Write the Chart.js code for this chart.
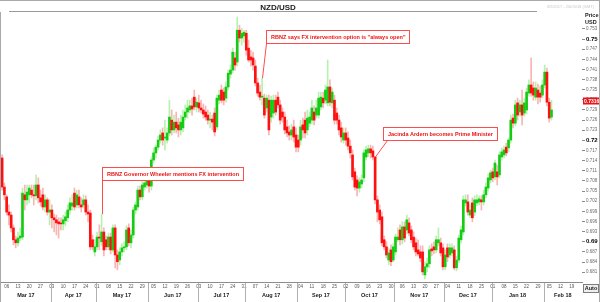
<!DOCTYPE html>
<html>
<head>
<meta charset="utf-8">
<title>NZD/USD</title>
<script src="https://cdn.jsdelivr.net/npm/chart.js@4.4.1/dist/chart.umd.min.js"></script>
<style>
  html, body { margin: 0; padding: 0; background: #ffffff; }
  #wrap { position: relative; width: 600px; height: 302px; overflow: hidden; }
  canvas { position: absolute; left: 0; top: 0; }
</style>
</head>
<body>
<div id="wrap"><canvas id="fx" width="600" height="302"></canvas></div>
<script>
// NZD/USD daily candles, 2 Mar 2017 - 6 Feb 2018
const pairName = 'NZD/USD';
const rangeNote = '3/2/2017 - 2/6/2018 (GMT)';
const firstSession = Date.UTC(2017, 2, 2);
const lastSession = Date.UTC(2018, 1, 23);
const lastQuote = 0.7316;

const open = [
  .7148,.7062,.7033,.6988,.6979,.6941,.6906,.6897,.6911,.6914,
  .7039,.7024,.7039,.7053,.7039,.7036,.7068,.7030,.7039,.7003,
  .7024,.6988,.6994,.6971,.6965,.6959,.6956,.6953,.6962,.6971,
  .6994,.7006,.7044,.7009,.7033,.7009,.7009,.7024,.6988,.6985,
  .6906,.6870,.6885,.6914,.6900,.6929,.6906,.6885,.6914,.6876,
  .6941,.6861,.6846,.6870,.6882,.6885,.6941,.6897,.6920,.6994,
  .7003,.7053,.7033,.7062,.7068,.7089,.7065,.7142,.7163,.7180,
  .7201,.7222,.7207,.7201,.7222,.7260,.7231,.7254,.7246,.7231,
  .7237,.7269,.7284,.7290,.7302,.7328,.7299,.7311,.7296,.7290,
  .7284,.7275,.7260,.7263,.7281,.7240,.7319,.7349,.7343,.7325,
  .7358,.7396,.7408,.7444,.7432,.7526,.7503,.7509,.7517,.7473,
  .7447,.7444,.7420,.7370,.7343,.7328,.7325,.7296,.7319,.7269,
  .7281,.7319,.7328,.7305,.7284,.7269,.7240,.7225,.7216,.7240,
  .7216,.7201,.7201,.7246,.7260,.7231,.7251,.7260,.7284,.7275,
  .7275,.7299,.7325,.7319,.7311,.7358,.7311,.7319,.7281,.7260,
  .7237,.7201,.7222,.7207,.7183,.7157,.7107,.7083,.7059,.7071,
  .7089,.7151,.7163,.7175,.7169,.7151,.7024,.6994,.6974,.6906,
  .6885,.6846,.6876,.6846,.6870,.6906,.6935,.6906,.6944,.6935,
  .6956,.6935,.6914,.6897,.6876,.6870,.6870,.6802,.6826,.6835,
  .6879,.6885,.6876,.6897,.6897,.6882,.6826,.6882,.6861,.6867,
  .6876,.6823,.6846,.6906,.6929,.7015,.7018,.6979,.7015,.6988,
  .7015,.7018,.7024,.7018,.7039,.7059,.7083,.7107,.7092,.7107,
  .7098,.7151,.7157,.7180,.7178,.7201,.7266,.7251,.7311,.7284,
  .7305,.7281,.7290,.7340,.7364,.7355,.7328,.7349,.7340,.7334,
  .7364,.7402,.7313,.7269
];

const high = [
  .7157,.7074,.7039,.7009,.6988,.6950,.6917,.6929,.6941,.7059,
  .7068,.7068,.7068,.7068,.7068,.7098,.7089,.7053,.7059,.7039,
  .7030,.7024,.7009,.6982,.6979,.6971,.6971,.6979,.6988,.7009,
  .7030,.7039,.7059,.7053,.7053,.7030,.7039,.7036,.7009,.6994,
  .6920,.6906,.6929,.6950,.6982,.6941,.6917,.6926,.6926,.6950,
  .6950,.6876,.6882,.6894,.6900,.6947,.6953,.6935,.7003,.7018,
  .7065,.7065,.7083,.7089,.7107,.7098,.7151,.7178,.7186,.7213,
  .7231,.7237,.7260,.7237,.7319,.7290,.7275,.7284,.7266,.7275,
  .7290,.7305,.7319,.7319,.7325,.7349,.7325,.7334,.7319,.7308,
  .7302,.7290,.7284,.7275,.7296,.7334,.7349,.7364,.7355,.7373,
  .7408,.7423,.7473,.7461,.7565,.7541,.7532,.7526,.7526,.7497,
  .7467,.7461,.7438,.7384,.7364,.7384,.7337,.7334,.7334,.7331,
  .7334,.7334,.7343,.7319,.7296,.7284,.7260,.7243,.7248,.7260,
  .7237,.7216,.7260,.7266,.7284,.7290,.7284,.7319,.7302,.7319,
  .7343,.7343,.7343,.7364,.7438,.7379,.7355,.7334,.7296,.7275,
  .7254,.7237,.7237,.7225,.7201,.7172,.7118,.7095,.7089,.7098,
  .7172,.7183,.7186,.7186,.7183,.7151,.7036,.7009,.6988,.6917,
  .6900,.6882,.6891,.6894,.6923,.6941,.6950,.6959,.6959,.6979,
  .6971,.6947,.6929,.6911,.6906,.6888,.6888,.6841,.6852,.6888,
  .6894,.6900,.6917,.6941,.6911,.6894,.6876,.6894,.6894,.6894,
  .6888,.6858,.6920,.6947,.7036,.7039,.7039,.7009,.7030,.7036,
  .7039,.7036,.7036,.7053,.7074,.7101,.7112,.7118,.7142,.7127,
  .7166,.7178,.7183,.7192,.7207,.7275,.7278,.7319,.7325,.7319,
  .7349,.7325,.7355,.7379,.7444,.7373,.7373,.7367,.7361,.7379,
  .7423,.7414,.7325,.7319
];

const low = [
  .7053,.7024,.6979,.6950,.6929,.6891,.6882,.6888,.6903,.6906,
  .6994,.7009,.7015,.7030,.7009,.7024,.7015,.7006,.6994,.6988,
  .6979,.6950,.6941,.6929,.6920,.6911,.6935,.6935,.6947,.6959,
  .6982,.6994,.6994,.7000,.7000,.6988,.7000,.6979,.6959,.6876,
  .6876,.6858,.6876,.6876,.6888,.6858,.6876,.6876,.6864,.6870,
  .6823,.6817,.6832,.6858,.6870,.6876,.6888,.6882,.6911,.6982,
  .6994,.7024,.7024,.7053,.7059,.7047,.7053,.7133,.7148,.7172,
  .7192,.7186,.7172,.7192,.7213,.7216,.7222,.7222,.7210,.7216,
  .7225,.7260,.7266,.7281,.7275,.7290,.7284,.7284,.7281,.7266,
  .7260,.7248,.7237,.7231,.7213,.7231,.7308,.7311,.7305,.7313,
  .7349,.7384,.7399,.7408,.7420,.7491,.7482,.7491,.7452,.7432,
  .7420,.7408,.7361,.7331,.7319,.7305,.7266,.7284,.7216,.7254,
  .7266,.7275,.7296,.7248,.7254,.7219,.7210,.7201,.7201,.7195,
  .7166,.7166,.7186,.7207,.7207,.7216,.7240,.7248,.7246,.7266,
  .7266,.7290,.7296,.7308,.7302,.7302,.7296,.7248,.7248,.7216,
  .7195,.7192,.7186,.7172,.7148,.7083,.7053,.7036,.7047,.7059,
  .7077,.7142,.7151,.7148,.7142,.7012,.6959,.6953,.6888,.6876,
  .6852,.6832,.6829,.6841,.6861,.6900,.6891,.6894,.6900,.6923,
  .6917,.6897,.6876,.6858,.6858,.6841,.6802,.6790,.6811,.6823,
  .6858,.6864,.6867,.6888,.6858,.6817,.6817,.6841,.6852,.6858,
  .6817,.6814,.6838,.6897,.6920,.7006,.6979,.6971,.6959,.6977,
  .7006,.7009,.6994,.7009,.7030,.7050,.7074,.7077,.7083,.7068,
  .7089,.7142,.7148,.7154,.7166,.7192,.7237,.7243,.7260,.7272,
  .7246,.7272,.7278,.7331,.7331,.7319,.7319,.7308,.7313,.7325,
  .7355,.7302,.7254,.7260
];

const close = [
  .7062,.7039,.6988,.6979,.6941,.6906,.6897,.6911,.6917,.7044,
  .7024,.7047,.7059,.7039,.7036,.7068,.7030,.7018,.7003,.7024,
  .6988,.6994,.6971,.6965,.6956,.6953,.6953,.6965,.6974,.6994,
  .7015,.7015,.7003,.7039,.7009,.7003,.7024,.6988,.6982,.6885,
  .6885,.6885,.6914,.6911,.6929,.6876,.6885,.6914,.6876,.6941,
  .6861,.6841,.6870,.6882,.6885,.6935,.6897,.6920,.6994,.7009,
  .7053,.7033,.7068,.7074,.7089,.7065,.7142,.7163,.7180,.7201,
  .7216,.7201,.7210,.7222,.7269,.7231,.7254,.7237,.7231,.7254,
  .7269,.7284,.7296,.7302,.7293,.7299,.7313,.7296,.7290,.7278,
  .7269,.7260,.7263,.7254,.7225,.7325,.7334,.7319,.7319,.7358,
  .7399,.7408,.7461,.7423,.7526,.7503,.7517,.7520,.7467,.7438,
  .7438,.7423,.7370,.7340,.7328,.7331,.7275,.7325,.7231,.7319,
  .7319,.7284,.7305,.7260,.7269,.7231,.7222,.7216,.7231,.7210,
  .7180,.7180,.7240,.7231,.7222,.7266,.7269,.7296,.7260,.7296,
  .7325,.7328,.7311,.7349,.7358,.7313,.7343,.7260,.7260,.7231,
  .7210,.7222,.7201,.7183,.7163,.7092,.7062,.7059,.7077,.7083,
  .7163,.7172,.7175,.7163,.7151,.7024,.6988,.6965,.6897,.6885,
  .6861,.6867,.6841,.6885,.6914,.6914,.6906,.6944,.6911,.6965,
  .6926,.6906,.6885,.6870,.6864,.6852,.6811,.6826,.6835,.6876,
  .6873,.6876,.6906,.6906,.6867,.6826,.6861,.6855,.6882,.6882,
  .6823,.6846,.6911,.6935,.7024,.7024,.6988,.6994,.6971,.7024,
  .7024,.7027,.7018,.7039,.7062,.7089,.7104,.7089,.7133,.7092,
  .7157,.7166,.7172,.7163,.7201,.7260,.7251,.7305,.7275,.7305,
  .7275,.7311,.7343,.7364,.7340,.7334,.7355,.7328,.7328,.7364,
  .7402,.7313,.7266,.7290
];

// Event call-outs: text, candle the pointer lands on, box left edge (session index), box top (price), pointer start (session index)
const eventText = [
  'RBNZ Governor Wheeler mentions FX intervention',
  'RBNZ says FX intervention option is "always open"',
  'Jacinda Ardern becomes Prime Minister'
];
const eventCandle = [44, 115, 165];
const eventBoxLeft = [44, 116.8, 168.5];
const eventBoxTop = [0.7121, 0.7526, 0.7240];
const eventTailFrom = [44, 116.8, 170.3];

const monthNames = ['Jan','Feb','Mar','Apr','May','Jun','Jul','Aug','Sep','Oct','Nov','Dec'];

// weekday sessions across the axis span
const sessions = [];
for (let t = firstSession; t <= lastSession; t += 86400000) {
  const wd = new Date(t).getUTCDay();
  if (wd > 0 && wd < 6) sessions.push(new Date(t).toISOString().slice(0, 10));
}

const UP = '#14cc14', DOWN = '#ff1010';
const UP_WICK = '#b6f2ae', DOWN_WICK = '#f9b4b4';
const bodies = open.map((o, i) => [o, close[i]]);
const ranges = low.map((l, i) => [l, high[i]]);
const bodyColors = open.map((o, i) => close[i] >= o ? UP : DOWN);
const wickColors = open.map((o, i) => close[i] >= o ? UP_WICK : DOWN_WICK);

const FONT = '"Liberation Sans", Arial, sans-serif';
Chart.defaults.font.family = FONT;

const isMajor = v => Math.round(v * 1000) % 30 === 0;
const tickIsMajor = c => !!(c && c.tick && isMajor(c.tick.value));

const decorations = {
  id: 'decorations',
  afterDraw(chart) {
    const { ctx, chartArea: a, scales: { x, y } } = chart;
    const W = chart.width, H = chart.height;
    ctx.save();

    // frame
    ctx.strokeStyle = '#a9a9a9';
    ctx.lineWidth = 1;
    ctx.beginPath();
    ctx.moveTo(0, 0.5); ctx.lineTo(W, 0.5);
    ctx.moveTo(0.5, 12); ctx.lineTo(0.5, H);
    ctx.moveTo(W - 0.5, 0); ctx.lineTo(W - 0.5, H);
    ctx.stroke();

    // header
    ctx.fillStyle = '#1a1a1a';
    ctx.font = 'bold 8px ' + FONT;
    ctx.textAlign = 'center';
    ctx.textBaseline = 'alphabetic';
    ctx.fillText(pairName, 278, 9.5);
    ctx.strokeStyle = '#9a9a9a';
    ctx.beginPath();
    ctx.moveTo(9, 11.5); ctx.lineTo(537, 11.5);
    ctx.stroke();
    ctx.fillStyle = '#c8c8c8';
    ctx.font = '4px ' + FONT;
    ctx.textAlign = 'right';
    ctx.fillText(rangeNote, 594, 8);

    // axis unit
    ctx.fillStyle = '#1a1a1a';
    ctx.font = 'bold 5.5px ' + FONT;
    ctx.textAlign = 'left';
    ctx.fillText('Price', 585, 17);
    ctx.fillText('USD', 585, 23.5);

    // month row under the day numbers
    const half = (x.getPixelForValue(1) - x.getPixelForValue(0)) / 2;
    const groups = [];
    sessions.forEach((d, i) => {
      const key = d.slice(0, 7);
      const g = groups[groups.length - 1];
      if (!g || g.key !== key) groups.push({ key, first: i, last: i });
      else g.last = i;
    });
    ctx.strokeStyle = '#b0b0b0';
    ctx.fillStyle = '#1a1a1a';
    ctx.font = 'bold 5.5px ' + FONT;
    ctx.textAlign = 'center';
    groups.forEach((g, k) => {
      const x0 = x.getPixelForValue(g.first) - half;
      const x1 = Math.min(x.getPixelForValue(g.last) + half, a.right);
      if (k > 0) {
        const sx = Math.round(x0) + 0.5;
        ctx.beginPath();
        ctx.moveTo(sx, a.bottom + 1); ctx.lineTo(sx, H);
        ctx.stroke();
      }
      const [yy, mm] = g.key.split('-');
      ctx.fillText(monthNames[+mm - 1] + ' ' + yy.slice(2), (x0 + x1) / 2, a.bottom + 14.5);
    });

    // last quote tag
    const py = y.getPixelForValue(lastQuote);
    ctx.fillStyle = '#e8141a';
    ctx.fillRect(a.right + 1, Math.round(py) - 3.5, W - a.right - 2, 7);
    ctx.fillStyle = '#ffffff';
    ctx.font = 'bold 5px ' + FONT;
    ctx.textAlign = 'left';
    ctx.textBaseline = 'middle';
    ctx.fillText(lastQuote.toFixed(4), a.right + 2, Math.round(py) + 0.2);

    // Auto button
    ctx.fillStyle = '#efefef';
    ctx.fillRect(583.5, 284.5, 15, 8);
    ctx.strokeStyle = '#7d7d7d';
    ctx.strokeRect(583.5, 284.5, 15, 8);
    ctx.fillStyle = '#1a1a1a';
    ctx.font = 'bold 5.5px ' + FONT;
    ctx.textAlign = 'center';
    ctx.fillText('Auto', 591, 288.8);

    // event call-outs
    ctx.font = 'bold 5.5px ' + FONT;
    eventText.forEach((txt, k) => {
      const bx = Math.round(x.getPixelForValue(eventBoxLeft[k])) + 0.5;
      const by = Math.round(y.getPixelForValue(eventBoxTop[k])) + 0.5;
      const bw = Math.round(ctx.measureText(txt).width + 9);
      const bh = 13;
      const tx = x.getPixelForValue(eventTailFrom[k]);
      const cx = x.getPixelForValue(eventCandle[k]);
      const cy = y.getPixelForValue(high[eventCandle[k]]);
      ctx.strokeStyle = '#ff4d4d';
      ctx.lineWidth = 1;
      ctx.beginPath();
      ctx.moveTo(Math.round(tx) + 0.5, by + bh);
      ctx.lineTo(Math.round(cx) + 0.5, cy);
      ctx.stroke();
      ctx.fillStyle = '#ffffff';
      ctx.fillRect(bx, by, bw, bh);
      ctx.strokeRect(bx, by, bw, bh);
      ctx.fillStyle = '#ee1111';
      ctx.textAlign = 'left';
      ctx.textBaseline = 'middle';
      ctx.fillText(txt, bx + 4.5, by + bh / 2 + 0.3);
    });

    ctx.restore();
  }
};

new Chart(document.getElementById('fx'), {
  type: 'bar',
  data: {
    labels: sessions,
    datasets: [
      { label: 'body', data: bodies, backgroundColor: bodyColors, barThickness: 2, grouped: false, order: 0 },
      { label: 'range', data: ranges, backgroundColor: wickColors, barThickness: 1, grouped: false, order: 1 }
    ]
  },
  options: {
    responsive: false,
    animation: false,
    devicePixelRatio: 1,
    layout: { padding: { top: 14, left: 1, right: 0, bottom: 0 } },
    plugins: { legend: { display: false }, tooltip: { enabled: false }, title: { display: false } },
    scales: {
      x: {
        grid: { display: false, drawTicks: false },
        border: { display: true, color: '#8c8c8c' },
        ticks: {
          autoSkip: false, maxRotation: 0, minRotation: 0, padding: 2,
          color: '#555555', font: { size: 4.5 },
          callback: (v, i) => {
            const d = new Date(sessions[i] + 'T00:00:00Z');
            return d.getUTCDay() === 1 ? sessions[i].slice(8, 10) : '';
          }
        },
        afterFit(s) { s.height = 20; }
      },
      y: {
        position: 'right',
        min: 0.6781,
        max: 0.7574,
        grid: { drawOnChartArea: false, drawTicks: true, tickLength: 3, color: '#8c8c8c' },
        border: { display: false },
        ticks: {
          stepSize: 0.003,
          includeBounds: false,
          padding: 1,
          color: c => tickIsMajor(c) ? '#000000' : '#6a6a6a',
          font: c => tickIsMajor(c) ? { size: 6, weight: 'bold' } : { size: 4.5 },
          callback: v => isMajor(v) ? v.toFixed(2) : v.toFixed(3)
        },
        afterBuildTicks(s) {
          if (Array.isArray(s.ticks)) s.ticks = s.ticks.filter(t => t && t.value <= 0.7545);
        },
        afterFit(s) { s.width = 18; }
      }
    }
  },
  plugins: [decorations]
});
</script>
</body>
</html>
